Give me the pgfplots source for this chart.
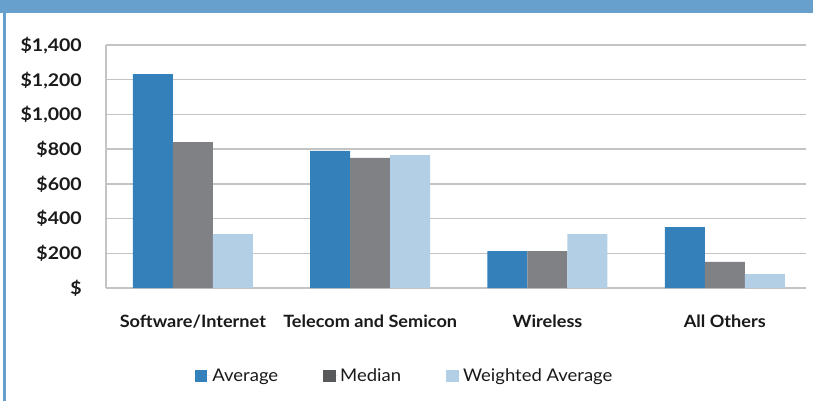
\documentclass[border=0pt]{standalone}
\usepackage{fontspec}
\setmainfont{Lato}
\newfontfamily\labfont[FakeStretch=1.07]{Lato}
\newfontfamily\tickfont[FakeStretch=1.12]{Lato}
\newfontfamily\legfont[FakeStretch=1.06]{Lato}
\usepackage{pgfplots}
\pgfplotsset{compat=1.18}
\definecolor{avg}{HTML}{3380BB}
\definecolor{med}{HTML}{808185}
\definecolor{medleg}{HTML}{58595B}
\definecolor{wavg}{HTML}{B3CFE5}
\definecolor{framec}{HTML}{67A0CD}
\definecolor{gridc}{HTML}{C4C4C4}
\definecolor{txt}{HTML}{1A1A1A}
\begin{document}
\begin{tikzpicture}
\path[use as bounding box] (0,0) rectangle (813bp,-401bp);
\fill[framec] (0,0) rectangle (813bp,-13bp);
\fill[framec] (3bp,0) rectangle (5.5bp,-401bp);
\begin{axis}[
  at={(106bp,-288bp)}, anchor=south west,
  scale only axis, width=700bp, height=243bp,
  ybar=0pt, bar width=0.2256,
  xmin=-0.49, xmax=3.458, ymin=0, ymax=1400,
  xtick={0,1,2,3},
  xticklabels={Software/Internet, Telecom and Semicon, Wireless, All Others},
  ytick={0,200,...,1400},
  yticklabels={\$,\$200,\$400,\$600,\$800,{\$1,000},{\$1,200},{\$1,400}},
  axis x line*=bottom, axis y line*=left,
  axis line style={gridc, line width=1.5bp},
  ymajorgrids, grid style={gridc, line width=1.5bp},
  major tick length=0pt, tick style={draw=none},
  yticklabel style={font=\tickfont\bfseries\fontsize{17.5}{17.5}\selectfont, text=txt, anchor=base east, inner sep=0pt, xshift=-24bp, yshift=-6.3bp},
  xticklabel style={font=\labfont\bfseries\fontsize{17}{17}\selectfont, text=txt, anchor=base, inner sep=0pt, yshift=-39bp},
  legend columns=3,
  legend style={draw=none, fill=none, at={(0.427,-0.362)}, anchor=center,
    font=\legfont\fontsize{17.5}{17.5}\selectfont, text=txt,
    /tikz/every even column/.append style={column sep=43bp}},
]
\addplot[fill=avg, draw=none, legend image code/.code={\path (0bp,0bp) -- (15bp,0bp);\fill[avg] (0bp,-6bp) rectangle (12bp,6bp);}] coordinates {(0,1232) (1,790) (2,213) (3,351)};
\addplot[fill=med, draw=none, legend image code/.code={\path (0bp,0bp) -- (15bp,0bp);\fill[medleg] (0bp,-6bp) rectangle (12.5bp,6bp);}] coordinates {(0,840) (1,749) (2,213) (3,150)};
\addplot[fill=wavg, draw=none, legend image code/.code={\path (0bp,0bp) -- (15bp,0bp);\fill[wavg] (0bp,-6bp) rectangle (12.5bp,6bp);}] coordinates {(0,310) (1,765) (2,311) (3,80)};
\legend{Average, Median, Weighted Average}
\end{axis}
\end{tikzpicture}
\end{document}
